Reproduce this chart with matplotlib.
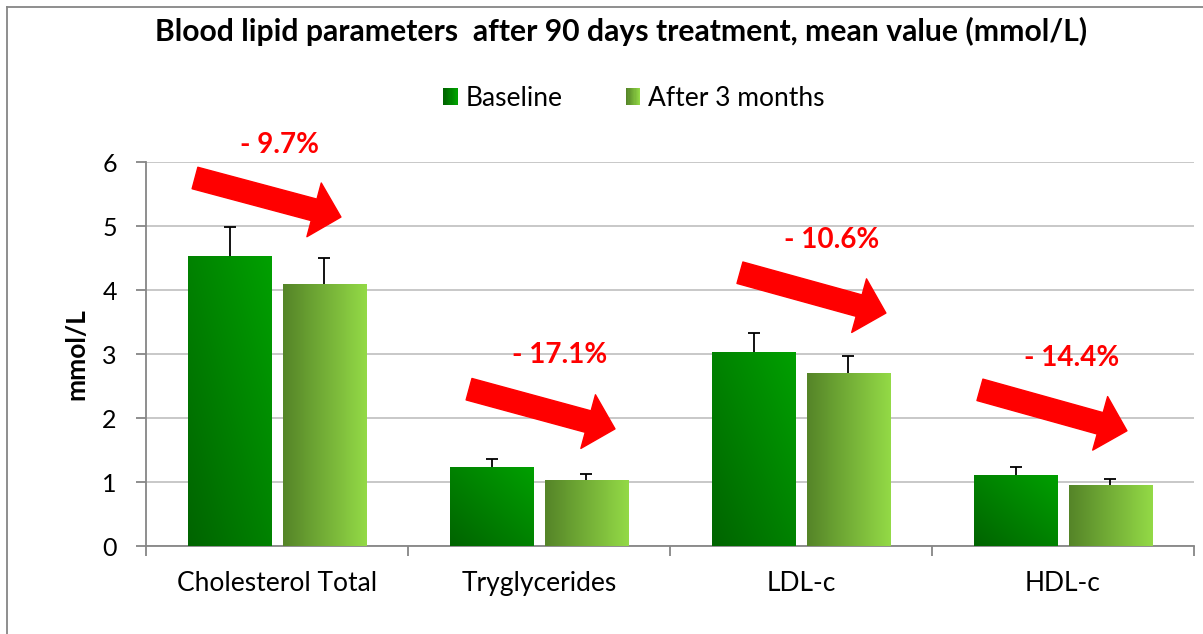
import numpy as np
import matplotlib
matplotlib.use("Agg")
import matplotlib.pyplot as plt
from matplotlib.colors import LinearSegmentedColormap
from matplotlib.patches import FancyArrowPatch, ArrowStyle, Patch, Rectangle
from matplotlib.legend_handler import HandlerBase
from matplotlib.lines import Line2D

plt.rcParams['font.family'] = ['Lato', 'DejaVu Sans']

# data
categories = ['Cholesterol Total', 'Tryglycerides', 'LDL-c', 'HDL-c']
baseline = [4.53, 1.24, 3.03, 1.11]
baseline_err = [0.45, 0.12, 0.30, 0.12]
after = [4.09, 1.03, 2.70, 0.95]
after_err = [0.41, 0.09, 0.27, 0.10]
changes = ['- 9.7%', '- 17.1%', '- 10.6%', '- 14.4%']
# arrow tail / tip and label position (x in category units, y in mmol/L)
arrow_tail = [(-0.313, 5.75), (0.733, 2.45), (1.767, 4.27), (2.683, 2.44)]
arrow_tip = [(0.244, 5.14), (1.29, 1.83), (2.324, 3.64), (3.244, 1.80)]
label_pos = [(0.008, 6.27), (1.08, 2.98), (2.118, 4.78), (3.034, 2.94)]

W, H = 1203, 634
fig = plt.figure(figsize=(W / 100, H / 100), dpi=100)
ax = fig.add_axes([146 / W, 1 - 546 / H, (1194 - 146) / W, (546 - 162) / H])

x = np.arange(len(categories))
width = 0.317
off = 0.181

cmap_base = LinearSegmentedColormap.from_list('base', ['#006400', '#00A000'])
cmap_after = LinearSegmentedColormap.from_list('after', ['#558528', '#93D946'])

bars_b = ax.bar(x - off, baseline, width, facecolor='none', edgecolor='none', zorder=3)
bars_a = ax.bar(x + off, after, width, facecolor='none', edgecolor='none', zorder=3)

# gradient fills clipped to each bar
u, v = np.meshgrid(np.linspace(0, 1, 64), np.linspace(0, 1, 64))
diag = (u + (1 - v)) / 2  # bottom-left dark -> top-right bright
horiz = u
for rect in bars_b:
    x0, w, h = rect.get_x(), rect.get_width(), rect.get_height()
    im = ax.imshow(diag, cmap=cmap_base, extent=[x0, x0 + w, 0, h],
                   aspect='auto', origin='upper', zorder=3, interpolation='bilinear')
    im.set_clip_path(rect)
for rect in bars_a:
    x0, w, h = rect.get_x(), rect.get_width(), rect.get_height()
    im = ax.imshow(horiz, cmap=cmap_after, extent=[x0, x0 + w, 0, h],
                   aspect='auto', origin='upper', zorder=3, interpolation='bilinear')
    im.set_clip_path(rect)

# upper error bars only (hide the cap at the bar top)
for pos, vals, errs in [(x - off, baseline, baseline_err), (x + off, after, after_err)]:
    _, caps, _ = ax.errorbar(pos, vals, yerr=[np.zeros(4), errs], fmt='none',
                             ecolor='black', elinewidth=1.3, capsize=4.5, capthick=1.3, zorder=4)
    caps[0].set_visible(False)

# red arrows and percentage labels
style = ArrowStyle.Simple(head_length=20, head_width=40, tail_width=16)
for tail, tip, pos, txt in zip(arrow_tail, arrow_tip, label_pos, changes):
    arr = FancyArrowPatch(tail, tip, arrowstyle=style, mutation_scale=1,
                          color='#FF0000', shrinkA=0, shrinkB=0, zorder=5, clip_on=False)
    ax.add_patch(arr)
    ax.text(pos[0], pos[1], txt, color='#FF0000', fontsize=20, fontweight='bold',
            ha='center', va='center', clip_on=False, zorder=6)

ax.set_xlim(-0.5, 3.5)
ax.set_ylim(0, 6)
ax.set_yticks(range(7))
ax.yaxis.grid(True, color='#C4C4C4', linewidth=1.3)
ax.set_axisbelow(True)

# category boundaries as major ticks, names on minor ticks
ax.set_xticks(np.arange(-0.5, 4, 1))
ax.set_xticklabels([])
ax.set_xticks(x, minor=True)
ax.set_xticklabels(categories, minor=True, fontsize=19)
ax.tick_params(axis='x', which='minor', length=0, pad=18)
ax.tick_params(axis='x', which='major', length=7, color='#868686', width=1.3)
ax.tick_params(axis='y', length=7, color='#868686', width=1.3, labelsize=18, pad=14)

for s in ['top', 'right']:
    ax.spines[s].set_visible(False)
for s in ['left', 'bottom']:
    ax.spines[s].set_color('#868686')
    ax.spines[s].set_linewidth(1.3)

ax.set_ylabel('mmol/L', fontsize=19, fontweight='bold', labelpad=10)

fig.text(621 / W, 1 - 41 / H, 'Blood lipid parameters  after 90 days treatment, mean value (mmol/L)',
         ha='center', va='baseline', fontsize=21.7, fontweight='bold')


class GradientHandler(HandlerBase):
    """Legend key drawn as thin vertical strips of a colormap."""

    def __init__(self, cmap, n=12):
        super().__init__()
        self.cmap = cmap
        self.n = n

    def create_artists(self, legend, orig_handle, xdescent, ydescent,
                       width, height, fontsize, trans):
        step = width / self.n
        return [Rectangle((-xdescent + i * step, -ydescent), step * 1.05, height,
                          facecolor=self.cmap(i / (self.n - 1)), edgecolor='none',
                          transform=trans) for i in range(self.n)]


handles = [Patch(facecolor='#008000'), Patch(facecolor='#79B83A')]
fig.legend(handles, ['Baseline', 'After 3 months'], loc='center',
           bbox_to_anchor=(634 / W, 1 - 98 / H), ncol=2, frameon=False, fontsize=19,
           handlelength=0.55, handleheight=0.6, handletextpad=0.3, columnspacing=2.4,
           handler_map={handles[0]: GradientHandler(cmap_base),
                        handles[1]: GradientHandler(cmap_after)})

# outer chart frame (top and left visible)
fig.add_artist(Line2D([7 / W, 1], [1 - 7 / H] * 2, color='#868686', linewidth=1.3))
fig.add_artist(Line2D([7 / W] * 2, [0, 1 - 7 / H], color='#868686', linewidth=1.3))

fig.savefig('out.png', dpi=100)
